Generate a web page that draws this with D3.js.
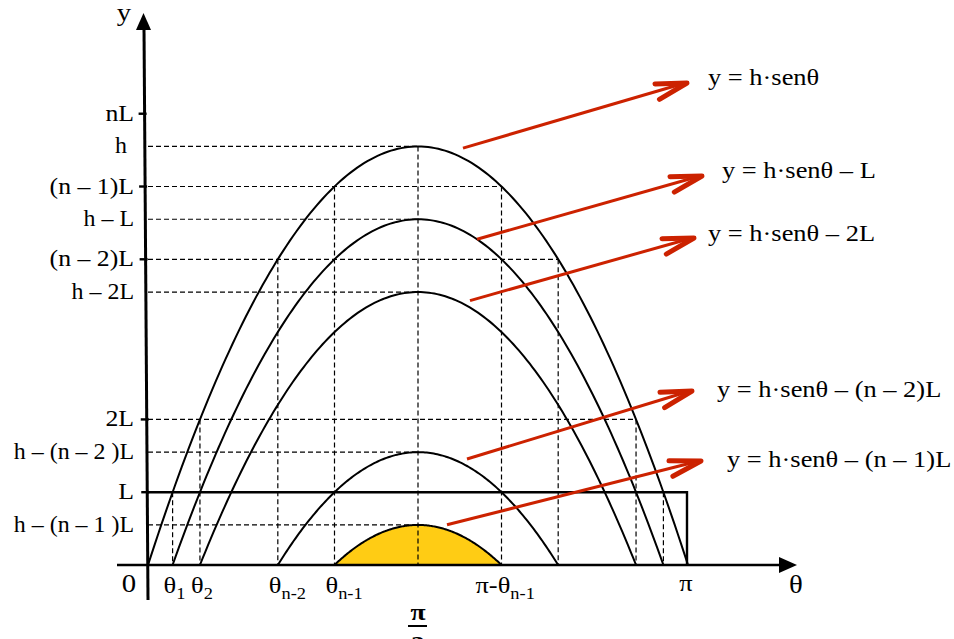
<!DOCTYPE html>
<html>
<head>
<meta charset="utf-8">
<script src="https://cdn.jsdelivr.net/npm/d3@7"></script>
<style>
  body { margin: 0; background: #fff; }
  svg text { font-family: "Liberation Serif", "Times New Roman", serif; fill: #000; }
</style>
</head>
<body>
<div id="chart"></div>
<script>
(function(){
  var width = 954,
      height = 639;

  // values, in units of L
  var h = 5.75, n = 6.2;
  var curveOffsets = [0, 1, 2, n - 2, n - 1];          // y = h·senθ − k·L
  var curveLabels = ['y = h·senθ', 'y = h·senθ – L', 'y = h·senθ – 2L',
                     'y = h·senθ – (n – 2)L', 'y = h·senθ – (n – 1)L'];
  var peakLabels = ['h', 'h – L', 'h – 2L', 'h – (n – 2 )L', 'h – (n – 1 )L'];
  var levelTicks = [n, n - 1, n - 2, 2, 1];
  var levelLabels = ['nL', '(n – 1)L', '(n – 2)L', '2L', 'L'];
  var thetaLevels = [1, 2, n - 2, n - 1];
  var thetaSubs = ['1', '2', 'n-2', 'n-1'];

  // callout layout: arrow start offset from the peak, arrow tip, label baseline
  var callouts = [
    {dx: 45, gap: 10, tx: 687, ty: 83,  lx: 708, ly: 85},
    {dx: 59, gap: 0,  tx: 702, ty: 176, lx: 722, ly: 178},
    {dx: 52, gap: 7,  tx: 694, ty: 238, lx: 708, ly: 241},
    {dx: 49, gap: 7,  tx: 692, ty: 391, lx: 717, ly: 397},
    {dx: 29, gap: 5,  tx: 701, ty: 461, lx: 727, ly: 467}
  ];

  var SX = 1.15, FS = 23;

  var svg = d3.select('#chart')
    .append('svg')
    .attr('width', width)
    .attr('height', height);

  var x = d3.scaleLinear().domain([0, Math.PI]).range([148, 688]);
  var y = d3.scaleLinear().domain([0, 7.57]).range([565, 14]);

  // the drawn arch (the sketch uses a parabolic arch for senθ)
  function arch(t){ var u = t / Math.PI; return 4 * u * (1 - u); }
  function cross(level){ return Math.PI * (1 - Math.sqrt(1 - level / h)) / 2; }

  function label(g, px, py, str, sub, anchor, size, bold, sx){
    var t = g.append('text')
      .attr('transform', 'translate(' + px + ',' + py + ') scale(' + (sx || SX) + ',1)')
      .attr('text-anchor', anchor || 'start')
      .style('font-size', (size || FS) + 'px')
      .style('font-weight', bold ? 'bold' : null)
      .text(str);
    if (sub) t.append('tspan').attr('dy', 6).style('font-size', '16px').text(sub);
    return t;
  }

  var x0 = x(0), xm = x(Math.PI / 2), xp = x(Math.PI), y0 = y(0);

  // yellow region under the last curve
  var kLast = curveOffsets[curveOffsets.length - 1];
  var aLo = cross(kLast), aHi = Math.PI - aLo;
  var areaPts = d3.range(0, 121).map(function(i){ return aLo + (aHi - aLo) * i / 120; });
  svg.append('path')
    .datum(areaPts)
    .attr('fill', '#ffcc14')
    .attr('d', d3.area()
      .x(function(t){ return x(t); })
      .y0(y0)
      .y1(function(t){ return y(Math.max(0, h * arch(t) - kLast)); }));

  var dash = svg.append('g')
    .attr('stroke', '#000')
    .attr('stroke-width', 1.2)
    .attr('stroke-dasharray', '5,3')
    .attr('fill', 'none');

  // dashed lines to the peaks
  curveOffsets.forEach(function(k){
    dash.append('line')
      .attr('x1', x0).attr('x2', xm)
      .attr('y1', y(h - k)).attr('y2', y(h - k));
  });
  dash.append('line').attr('x1', xm).attr('x2', xm).attr('y1', y(h)).attr('y2', y0);

  // dashed lines to the level crossings
  thetaLevels.forEach(function(lv){
    var t1 = cross(lv), t2 = Math.PI - t1;
    if (lv !== 1) {
      dash.append('line')
        .attr('x1', x0).attr('x2', x(t2))
        .attr('y1', y(lv)).attr('y2', y(lv));
    }
    [t1, t2].forEach(function(t){
      dash.append('line')
        .attr('x1', x(t)).attr('x2', x(t))
        .attr('y1', y(lv)).attr('y2', y0);
    });
  });

  // solid L line and its right side
  svg.append('path')
    .attr('d', 'M' + x0 + ',' + y(1) + 'H' + (xp - 1) + 'V' + y0)
    .attr('fill', 'none')
    .attr('stroke', '#000')
    .attr('stroke-width', 2.4);

  // curves
  curveOffsets.forEach(function(k){
    var lo = cross(k), hi = Math.PI - lo;
    var pts = d3.range(0, 161).map(function(i){ return lo + (hi - lo) * i / 160; });
    svg.append('path')
      .datum(pts)
      .attr('fill', 'none')
      .attr('stroke', '#000')
      .attr('stroke-width', 2)
      .attr('d', d3.line()
        .x(function(t){ return x(t); })
        .y(function(t){ return y(Math.max(0, h * arch(t) - k)); }));
  });

  // axes
  var ax = svg.append('g').attr('stroke', '#000').attr('fill', '#000');
  ax.append('line')
    .attr('x1', 117).attr('x2', 782)
    .attr('y1', y0).attr('y2', y0)
    .attr('stroke-width', 2.6);
  ax.append('path').attr('stroke', 'none')
    .attr('d', 'M797,' + y0 + 'L779,' + (y0 - 8) + 'L779,' + (y0 + 8) + 'Z');
  ax.append('line')
    .attr('x1', x0).attr('x2', x0 - 4)
    .attr('y1', 600).attr('y2', 28)
    .attr('stroke-width', 3);
  ax.append('path').attr('stroke', 'none')
    .attr('d', 'M' + (x0 - 4.5) + ',13L' + (x0 - 12) + ',30L' + (x0 + 3) + ',30Z');
  levelTicks.forEach(function(v){
    var xa = x0 - 4 * (600 - y(v)) / 572;
    ax.append('line')
      .attr('x1', xa - 6).attr('x2', xa + 2)
      .attr('y1', y(v)).attr('y2', y(v))
      .attr('stroke-width', 2.4);
  });

  // y labels
  var lab = svg.append('g');
  label(lab, 124, 21, 'y', null, 'middle', 25);
  levelTicks.forEach(function(v, i){
    label(lab, 134, y(v) + 7, levelLabels[i], null, 'end', null, false, 1.12);
  });
  curveOffsets.forEach(function(k, i){
    label(lab, i === 0 ? 127 : 134, y(h - k) + 7, peakLabels[i], null, 'end', null, false, 1.04);
  });

  // x labels
  label(lab, 129, 592, '0', null, 'middle', 25);
  thetaLevels.forEach(function(lv, i){
    label(lab, x(cross(lv)) - 9, 593, 'θ', thetaSubs[i], 'start');
  });
  label(lab, x(Math.PI - cross(n - 1)) - 26, 593, 'π-θ', 'n-1', 'start');
  label(lab, xp - 2, 591, 'π', null, 'middle');
  label(lab, 796, 593, 'θ', null, 'middle', 25);
  label(lab, xm, 620, 'π', null, 'middle', 24, true);
  svg.append('line')
    .attr('x1', xm - 10).attr('x2', xm + 9)
    .attr('y1', 626).attr('y2', 626)
    .attr('stroke', '#000').attr('stroke-width', 2);
  label(lab, xm, 652, '2', null, 'middle', 24, true);

  // red callouts
  var red = '#cc2200';
  callouts.forEach(function(c, i){
    var k = curveOffsets[i];
    var t = x.invert(xm + c.dx);
    var sx = xm + c.dx, sy = y(h * arch(t) - k) - c.gap;
    var ang = Math.atan2(c.ty - sy, c.tx - sx) * 180 / Math.PI;
    svg.append('line')
      .attr('x1', sx).attr('y1', sy)
      .attr('x2', c.tx - 2).attr('y2', c.ty)
      .attr('stroke', red).attr('stroke-width', 3);
    svg.append('path')
      .attr('transform', 'translate(' + c.tx + ',' + c.ty + ') rotate(' + ang + ')')
      .attr('d', 'M-31,-8L0,0L-31,8')
      .attr('fill', 'none')
      .attr('stroke', red)
      .attr('stroke-width', 5)
      .attr('stroke-linecap', 'round')
      .attr('stroke-linejoin', 'round');
    label(lab, c.lx, c.ly, curveLabels[i], null, 'start', 23);
  });
})()
</script>
</body>
</html>
